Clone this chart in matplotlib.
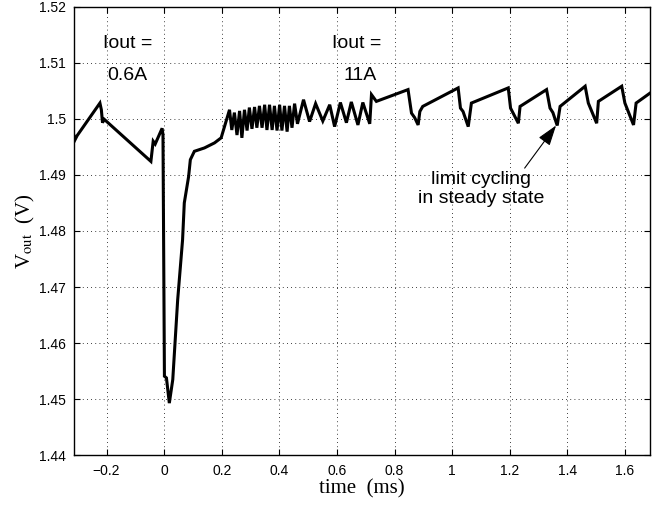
import numpy as np
import matplotlib
matplotlib.use('Agg')
import matplotlib.pyplot as plt
from matplotlib.ticker import FuncFormatter

# waveform breakpoints: time (ms), Vout (V)
t_pre = [-0.316, -0.309, -0.302, -0.223, -0.218, -0.214, -0.208, -0.046, -0.038, -0.031, -0.007, -0.004]
v_pre = [1.4975, 1.4963, 1.4970, 1.5028, 1.5016, 1.4993, 1.4999, 1.4924, 1.4960, 1.4955, 1.4983, 1.4971]

t_dip = [0.001, 0.008, 0.018, 0.030, 0.047, 0.064, 0.070, 0.085, 0.091, 0.105, 0.140, 0.175, 0.198]
v_dip = [1.4541, 1.4538, 1.4493, 1.4535, 1.4677, 1.4784, 1.4850, 1.4897, 1.4927, 1.4942, 1.4948, 1.4957, 1.4966]

t_ripple = [0.227, 0.235, 0.244, 0.253, 0.262, 0.270, 0.279, 0.288, 0.296, 0.305,
            0.314, 0.322, 0.331, 0.340, 0.349, 0.357, 0.366, 0.375, 0.383, 0.392,
            0.401, 0.409, 0.418, 0.427, 0.435, 0.444, 0.453, 0.463, 0.484, 0.505,
            0.526, 0.551, 0.575, 0.592, 0.612, 0.633, 0.650, 0.673, 0.690, 0.714]
v_ripple = [1.5016, 1.4980, 1.5011, 1.4971, 1.5014, 1.4966, 1.5016, 1.4979, 1.5020, 1.4982,
            1.5021, 1.4984, 1.5023, 1.4984, 1.5025, 1.4980, 1.5025, 1.4980, 1.5023, 1.4979,
            1.5025, 1.4979, 1.5023, 1.4977, 1.5023, 1.4984, 1.5027, 1.4991, 1.5034, 1.4995,
            1.5027, 1.4996, 1.5025, 1.4986, 1.5029, 1.4993, 1.5030, 1.4989, 1.5029, 1.4991]

t_cycle = [0.720, 0.737, 0.847, 0.859, 0.870, 0.882, 0.888, 0.898,
           1.021, 1.029, 1.038, 1.056, 1.067,
           1.195, 1.203, 1.230, 1.236,
           1.328, 1.340, 1.350, 1.365, 1.375,
           1.462, 1.473, 1.502, 1.508,
           1.589, 1.600, 1.630, 1.639, 1.688]
v_cycle = [1.5043, 1.5031, 1.5052, 1.5010, 1.5002, 1.4989, 1.5013, 1.5022,
           1.5055, 1.5019, 1.5013, 1.4986, 1.5028,
           1.5055, 1.5019, 1.4992, 1.5022,
           1.5052, 1.5019, 1.5011, 1.4988, 1.5022,
           1.5058, 1.5028, 1.4992, 1.5031,
           1.5058, 1.5028, 1.4989, 1.5028, 1.5046]

t = t_pre + t_dip + t_ripple + t_cycle
v = v_pre + v_dip + v_ripple + v_cycle

xticks = [-0.2, 0, 0.2, 0.4, 0.6, 0.8, 1.0, 1.2, 1.4, 1.6]
yticks = [1.44, 1.45, 1.46, 1.47, 1.48, 1.49, 1.50, 1.51, 1.52]

sans = 'Liberation Sans'
serif = 'Liberation Serif'
plt.rcParams['font.family'] = sans
plt.rcParams['mathtext.fontset'] = 'stix'

fig = plt.figure(figsize=(6.62, 5.07), dpi=100)
ax = fig.add_axes([0.112, 0.102, 0.870, 0.885])

ax.plot(t, v, color='k', lw=2.2, solid_joinstyle='miter')

ax.set_xlim(-0.3125, 1.6875)
ax.set_ylim(1.44, 1.52)
ax.set_xticks(xticks)
ax.set_yticks(yticks)
fmt = FuncFormatter(lambda x, p: ('%g' % round(x, 3)).replace('-', '\u2212'))
ax.xaxis.set_major_formatter(fmt)
ax.yaxis.set_major_formatter(fmt)
ax.tick_params(direction='in', top=True, right=True, labelsize=10, length=4, width=0.8, pad=6)
for s in ax.spines.values():
    s.set_linewidth(1.0)
ax.grid(True, color='k', linestyle=(0, (1, 4)), lw=0.6)

ax.set_xlabel('time  (ms)', family=serif, fontsize=15, labelpad=1)
ax.set_ylabel(r'V$_{\rm out}$  (V)', family=serif, fontsize=15, labelpad=1)

ax.text(-0.128, 1.5135, 'Iout =', fontsize=14, ha='center', va='center')
ax.text(-0.128, 1.5078, '0.6A', fontsize=14, ha='center', va='center')
ax.text(0.668, 1.5135, 'Iout =', fontsize=14, ha='center', va='center')
ax.text(0.680, 1.5078, '11A', fontsize=14, ha='center', va='center')

ax.annotate('limit cycling\nin steady state', xy=(1.361, 1.4988), xytext=(1.10, 1.4875),
            fontsize=14, ha='center', va='center', linespacing=1.15,
            arrowprops=dict(arrowstyle='-|>,head_length=0.9,head_width=0.3', color='k', lw=0.8,
                            mutation_scale=14, shrinkA=0, shrinkB=0, relpos=(0.83, 1.0)))

fig.savefig('out.png', dpi=100)
